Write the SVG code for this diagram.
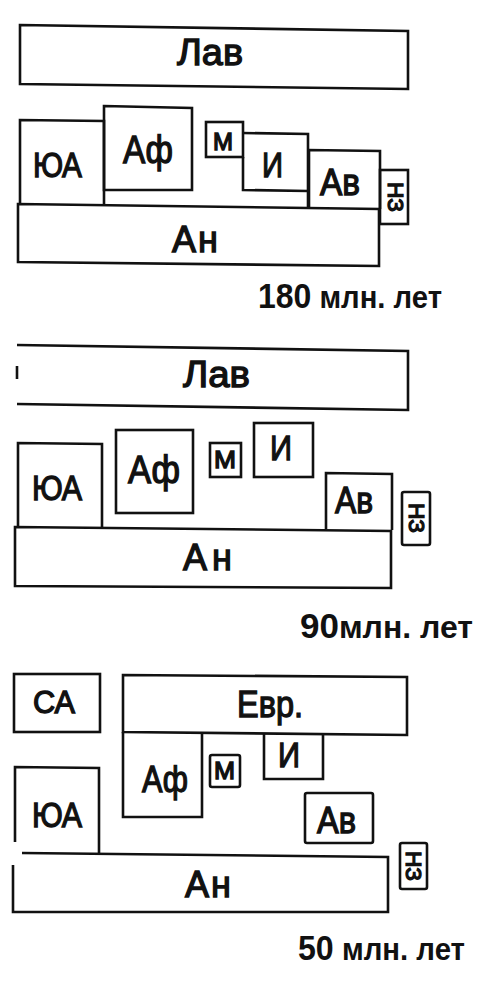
<svg xmlns="http://www.w3.org/2000/svg" width="486" height="981" viewBox="0 0 486 981">
<style>
.b{fill:none;stroke:#111;stroke-width:2.6;stroke-linejoin:miter}
.t{font-family:"Liberation Sans",Arial,sans-serif;fill:#111;stroke:#111;stroke-width:1.3}
.c{font-family:"Liberation Sans",Arial,sans-serif;font-weight:bold;fill:#111}
</style>
<rect width="486" height="981" fill="#fff"/>

<!-- Panel 1: 180 млн. лет -->
<g id="p1-lav"><polygon class="b" points="20,25 408,31 408,89 20,84"/><text class="t" x="177" y="65" font-size="37" textLength="66" lengthAdjust="spacingAndGlyphs">Лав</text></g>
<g id="p1-ua"><polyline class="b" points="20,205 20,120 104,121 104,205"/><text class="t" x="33" y="177" font-size="35" textLength="49" lengthAdjust="spacingAndGlyphs">ЮА</text></g>
<g id="p1-af"><polygon class="b" points="104,106 192,108 192,190 104,190"/><text class="t" x="123" y="163" font-size="38" textLength="50" lengthAdjust="spacingAndGlyphs">Аф</text></g>
<g id="p1-m"><rect class="b" x="206" y="122" width="37" height="35"/><text class="t" x="213" y="150" font-size="23" textLength="20" lengthAdjust="spacingAndGlyphs">М</text></g>
<g id="p1-i"><path class="b" d="M243,133 L308,134 L308,207 M308,191 L243,190 L243,157"/><text class="t" x="262" y="177" font-size="35" textLength="21" lengthAdjust="spacingAndGlyphs">И</text></g>
<g id="p1-av"><path class="b" d="M309,208 L309,150 L380,151 L380,209"/><text class="t" x="320" y="195" font-size="37" textLength="40" lengthAdjust="spacingAndGlyphs">Ав</text></g>
<g id="p1-nz"><rect class="b" x="380" y="170" width="28" height="54"/><text class="t" transform="translate(388,182) rotate(90)" x="0" y="0" font-size="22" textLength="30" lengthAdjust="spacingAndGlyphs">НЗ</text></g>
<g id="p1-an"><polygon class="b" points="18,204 379,209 379,266 18,262"/><text class="t" x="172" y="252" font-size="36">А<tspan dx="2">н</tspan></text></g>
<text class="c" x="258" y="308" textLength="184" lengthAdjust="spacingAndGlyphs"><tspan font-size="35">180</tspan><tspan font-size="32"> млн. лет</tspan></text>

<!-- Panel 2: 90 млн. лет -->
<g id="p2-lav"><path class="b" d="M17,404 L408,410 L408,351 L17,345 M17,366 L17,379"/><text class="t" x="183" y="387" font-size="37" textLength="67" lengthAdjust="spacingAndGlyphs">Лав</text></g>
<g id="p2-ua"><polyline class="b" points="18,528 18,443 102,444 102,528"/><text class="t" x="32" y="500" font-size="35" textLength="50" lengthAdjust="spacingAndGlyphs">ЮА</text></g>
<g id="p2-af"><rect class="b" x="116" y="430" width="77" height="83"/><text class="t" x="128" y="483" font-size="38" textLength="52" lengthAdjust="spacingAndGlyphs">Аф</text></g>
<g id="p2-m"><rect class="b" x="210" y="443" width="31" height="34"/><text class="t" x="214" y="468" font-size="23" textLength="22" lengthAdjust="spacingAndGlyphs">М</text></g>
<g id="p2-i"><rect class="b" x="254" y="423" width="59" height="54"/><text class="t" x="270" y="460" font-size="35" textLength="22" lengthAdjust="spacingAndGlyphs">И</text></g>
<g id="p2-av"><polyline class="b" points="326,529 326,473 392,474 392,530"/><text class="t" x="335" y="513" font-size="36" textLength="38" lengthAdjust="spacingAndGlyphs">Ав</text></g>
<g id="p2-nz"><rect class="b" x="402" y="492" width="28" height="53" rx="2"/><text class="t" transform="translate(409,503) rotate(90)" x="0" y="0" font-size="22" textLength="30" lengthAdjust="spacingAndGlyphs">НЗ</text></g>
<g id="p2-an"><polygon class="b" points="15,527 391,531 391,588 15,586"/><text class="t" x="183" y="570" font-size="36">А<tspan dx="5">н</tspan></text></g>
<text class="c" x="300" y="638" textLength="173" lengthAdjust="spacingAndGlyphs"><tspan font-size="35">90</tspan><tspan font-size="32">млн. лет</tspan></text>

<!-- Panel 3: 50 млн. лет -->
<g id="p3-sa"><rect class="b" x="14" y="674" width="86" height="58"/><text class="t" x="33" y="713" font-size="31" textLength="42" lengthAdjust="spacingAndGlyphs">СА</text></g>
<g id="p3-evr"><polygon class="b" points="123,675 407,677 407,735 123,732"/><text class="t" x="237" y="717" font-size="37" textLength="66" lengthAdjust="spacingAndGlyphs">Евр.</text></g>
<g id="p3-af"><polyline class="b" points="123,732 123,817 202,817 202,733"/><text class="t" x="142" y="792" font-size="37" textLength="46" lengthAdjust="spacingAndGlyphs">Аф</text></g>
<g id="p3-m"><rect class="b" x="210" y="755" width="30" height="32" rx="2"/><text class="t" x="214" y="779" font-size="23" textLength="21" lengthAdjust="spacingAndGlyphs">М</text></g>
<g id="p3-i"><polyline class="b" points="264,734 264,779 323,779 323,735"/><text class="t" x="278" y="767" font-size="35" textLength="22" lengthAdjust="spacingAndGlyphs">И</text></g>
<g id="p3-av"><rect class="b" x="305" y="793" width="68" height="50" rx="2"/><text class="t" x="317" y="833" font-size="36" textLength="39" lengthAdjust="spacingAndGlyphs">Ав</text></g>
<g id="p3-ua"><path class="b" d="M15,842 L15,767 L99,768 L99,853"/><text class="t" x="32" y="827" font-size="35" textLength="50" lengthAdjust="spacingAndGlyphs">ЮА</text></g>
<g id="p3-nz"><rect class="b" x="400" y="843" width="27" height="46" rx="2"/><text class="t" transform="translate(406,851) rotate(90)" x="0" y="0" font-size="22" textLength="30" lengthAdjust="spacingAndGlyphs">НЗ</text></g>
<g id="p3-an"><path class="b" d="M22,853 L388,857 L388,912 L13,912 L13,865"/><text class="t" x="185" y="897" font-size="36">А<tspan dx="2">н</tspan></text></g>
<text class="c" x="298" y="960" textLength="167" lengthAdjust="spacingAndGlyphs"><tspan font-size="35">50</tspan><tspan font-size="32"> млн. лет</tspan></text>
</svg>
